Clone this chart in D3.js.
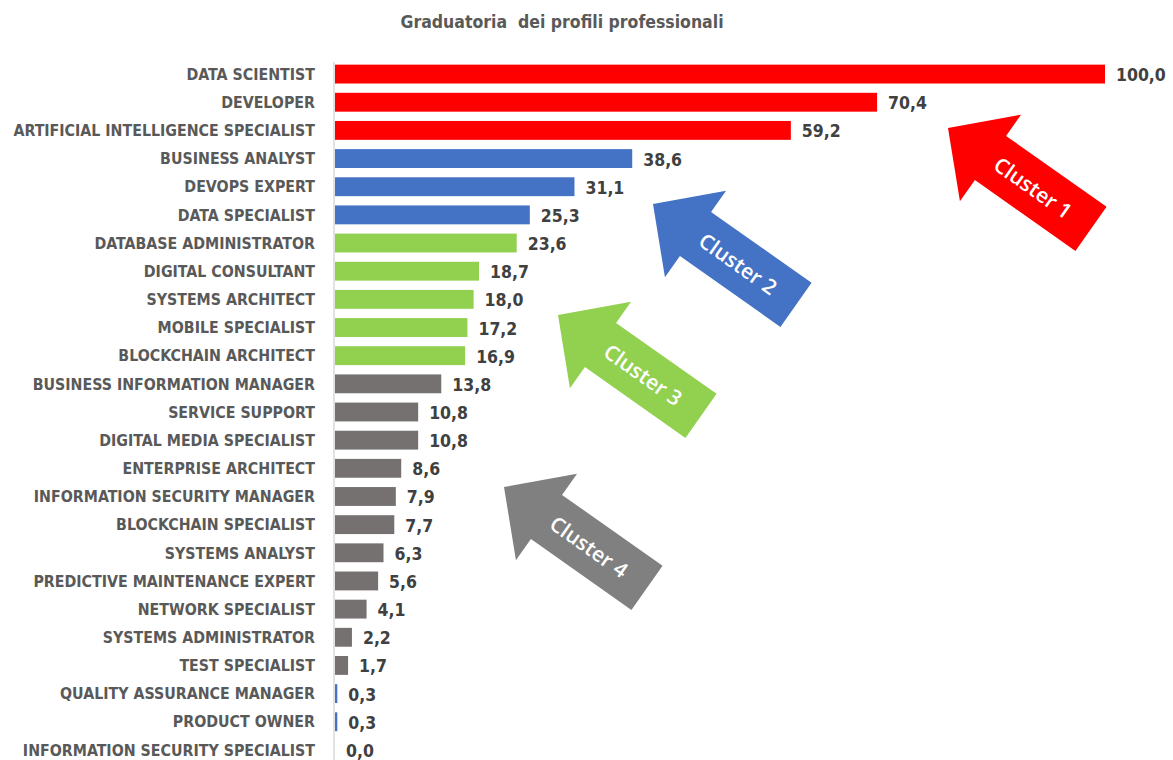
<!DOCTYPE html>
<html>
<head>
<meta charset="utf-8">
<script src="https://cdn.jsdelivr.net/npm/d3@7"></script>
<style>
  body { margin: 0; background: #fff; }
  text { font-family: "Liberation Sans Narrow", "Arial Narrow", "DejaVu Sans Condensed", sans-serif; font-weight: bold; }
</style>
</head>
<body>
<div id="chart"></div>
<script>
var profiles = ["DATA SCIENTIST", "DEVELOPER", "ARTIFICIAL INTELLIGENCE SPECIALIST",
  "BUSINESS ANALYST", "DEVOPS EXPERT", "DATA SPECIALIST", "DATABASE ADMINISTRATOR",
  "DIGITAL CONSULTANT", "SYSTEMS ARCHITECT ", "MOBILE SPECIALIST", "BLOCKCHAIN ARCHITECT",
  "BUSINESS INFORMATION MANAGER", "SERVICE SUPPORT", "DIGITAL MEDIA SPECIALIST",
  "ENTERPRISE ARCHITECT", "INFORMATION SECURITY MANAGER", "BLOCKCHAIN SPECIALIST",
  "SYSTEMS ANALYST", "PREDICTIVE MAINTENANCE EXPERT", "NETWORK SPECIALIST",
  "SYSTEMS ADMINISTRATOR", "TEST SPECIALIST", "QUALITY ASSURANCE MANAGER",
  "PRODUCT OWNER", "INFORMATION SECURITY SPECIALIST"];
var scores = [100.0, 70.4, 59.2, 38.6, 31.1, 25.3, 23.6, 18.7, 18.0, 17.2, 16.9,
  13.8, 10.8, 10.8, 8.6, 7.9, 7.7, 6.3, 5.6, 4.1, 2.2, 1.7, 0.3, 0.3, 0.0];
var cluster = [1, 1, 1, 2, 2, 2, 3, 3, 3, 3, 3, 4, 4, 4, 4, 4, 4, 4, 4, 4, 4, 4, 0, 0, 0];
var clusterNames = ["", "Cluster 1", "Cluster 2", "Cluster 3", "Cluster 4"];
var barColors = ["#4472c4", "#ff0000", "#4472c4", "#92d050", "#767171"];
var arrowColors = ["", "#ff0000", "#4472c4", "#92d050", "#808080"];

var data = profiles.map(function (p, i) {
  return { name: p, value: scores[i], cluster: cluster[i] };
});

var svg = d3.select("#chart")
  .append("svg")
  .attr("width", 1173)
  .attr("height", 760);

svg.append("text")
  .attr("x", 562)
  .attr("y", 28)
  .attr("text-anchor", "middle")
  .attr("fill", "#595959")
  .style("font-size", "17.5px")
  .style("white-space", "pre")
  .text("Graduatoria  dei profili professionali");

var x = d3.scaleLinear()
  .domain([0, 100])
  .range([335, 1105]);

var y = d3.scaleBand()
  .domain(profiles)
  .range([60, 764])
  .paddingInner(0.33)
  .paddingOuter(0.165);

var it = d3.formatLocale({ decimal: ",", thousands: ".", grouping: [3], currency: ["", "€"] });
var fmt = it.format(".1f");

// bars
svg.append("g")
  .selectAll("rect")
  .data(data)
  .join("rect")
    .attr("x", x(0))
    .attr("y", function (d) { return y(d.name); })
    .attr("width", function (d) { return Math.max(x(d.value) - x(0), d.value > 0 ? 1.5 : 0); })
    .attr("height", y.bandwidth())
    .attr("fill", function (d) { return barColors[d.cluster]; });

// category axis
var yAxis = svg.append("g")
  .attr("transform", `translate(${x(0) - 1},0)`)
  .call(d3.axisLeft(y).tickSize(0).tickPadding(19));
yAxis.select(".domain")
  .attr("stroke", "#d9d9d9")
  .attr("stroke-width", 1.5)
  .attr("d", "M0,62V760");
yAxis.selectAll(".tick text")
  .attr("fill", "#595959")
  .attr("dy", "0.36em")
  .style("font-size", "15.8px");

// value labels
svg.append("g")
  .selectAll("text")
  .data(data)
  .join("text")
    .attr("x", function (d) { return x(d.value) + 11; })
    .attr("y", function (d) { return y(d.name) + y.bandwidth() / 2; })
    .attr("dy", "0.4em")
    .attr("fill", "#404040")
    .style("font-size", "17.5px")
    .text(function (d) { return fmt(d.value); });

// cluster arrows
var arrowTips = [[948, 128], [653, 204], [558, 315], [504, 487]];
var arrowShape = [[0, 0], [52, -53], [52, -27], [175, -27], [175, 27], [52, 27], [52, 53]];

var arrows = svg.append("g")
  .selectAll("g")
  .data(arrowTips)
  .join("g")
    .attr("transform", function (d) { return `translate(${d[0]},${d[1]}) rotate(35.2)`; });

arrows.append("path")
  .attr("d", d3.line()(arrowShape) + "Z")
  .attr("fill", function (d, i) { return arrowColors[i + 1]; });

arrows.append("text")
  .attr("x", 104)
  .attr("y", 0)
  .attr("dy", "0.36em")
  .attr("text-anchor", "middle")
  .attr("fill", "#fff")
  .style("font-family", "'Open Sans', sans-serif")
  .style("font-weight", "600")
  .style("font-size", "21px")
  .text(function (d, i) { return clusterNames[i + 1]; });
</script>
</body>
</html>
